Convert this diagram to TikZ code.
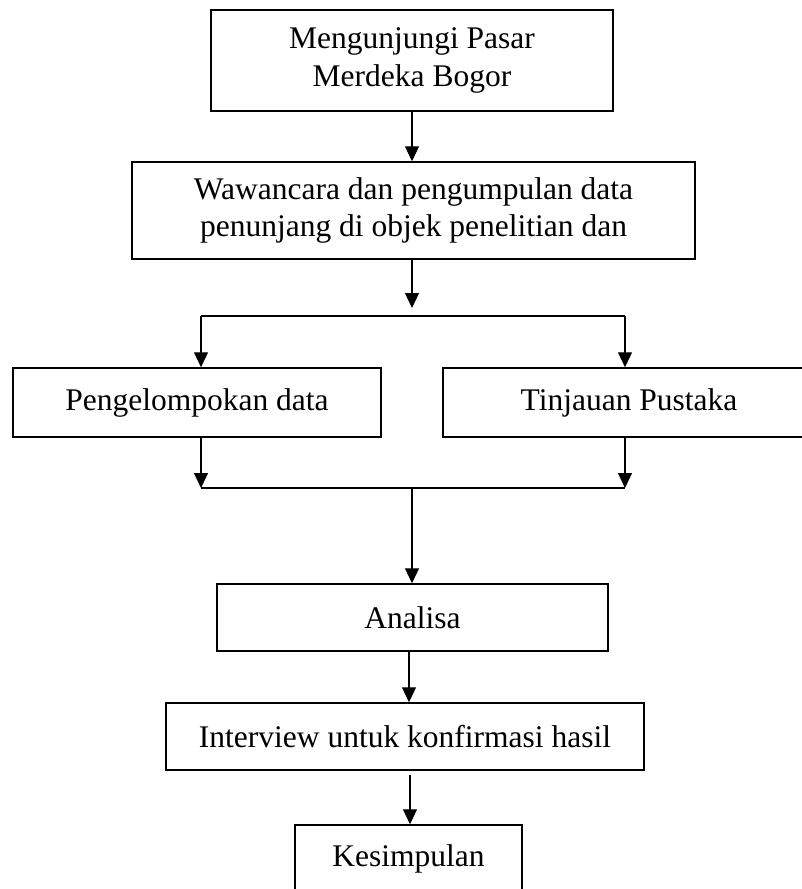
\documentclass[tikz,border=0pt]{standalone}
\usepackage{fontspec}
\setmainfont{Liberation Serif}
\usetikzlibrary{arrows.meta}
\tikzset{
  box/.style={draw, line width=1.5pt, rectangle, inner sep=0pt, align=center,
    font=\fontsize{31.5}{37.5}\selectfont},
  arr/.style={line width=1.1pt, -{Triangle[length=15pt,width=14pt]}},
  ln/.style={line width=1.1pt}
}
\begin{document}
\begin{tikzpicture}[x=1pt,y=-1pt]
\useasboundingbox (0,0) rectangle (802,889);
\node[box, minimum width=402pt, minimum height=101pt] (b1) at (412,60.5) {Mengunjungi Pasar\\Merdeka Bogor};
\node[box, minimum width=563pt, minimum height=97pt] (b2) at (413.5,210.5) {Wawancara dan pengumpulan data\\penunjang di objek penelitian dan};
\node[box, minimum width=368pt, minimum height=69pt] (b3) at (197,402.5) {Pengelompokan data};
\node[box, minimum width=372pt, minimum height=69pt] (b4) at (629,402.5) {Tinjauan Pustaka};
\node[box, minimum width=391pt, minimum height=67pt] (b5) at (412.5,617.5) {Analisa};
\node[box, minimum width=478pt, minimum height=67pt] (b6) at (405,736.5) {Interview untuk konfirmasi hasil};
\node[box, minimum width=227pt, minimum height=67pt] (b7) at (408.5,858.5) {Kesimpulan};

\coordinate (s) at (412,316);
\coordinate (sl) at (201,316);
\coordinate (sr) at (625,316);
\coordinate (ml) at (201,488);
\coordinate (mr) at (625,488);
\coordinate (m) at (412,488);

\draw[arr] (b1.south) -- (b1.south |- b2.north);
\draw[arr] (b2.south -| s) -- ([yshift=8pt]s);
\draw[ln] (sl) -- (sr);
\draw[arr] (sl) -- (sl |- b3.north);
\draw[arr] (sr) -- (sr |- b4.north);
\draw[arr] (b3.south -| ml) -- (ml);
\draw[arr] (b4.south -| mr) -- (mr);
\draw[ln] (ml) -- (mr);
\draw[arr] (m) -- (m |- b5.north);
\draw[arr] ([xshift=-3.5pt]b5.south) -- ([xshift=-3.5pt]b5.south |- b6.north);
\draw[arr] ([xshift=5pt,yshift=-4pt]b6.south) -- ([xshift=5pt]b6.south |- b7.north);
\end{tikzpicture}
\end{document}
